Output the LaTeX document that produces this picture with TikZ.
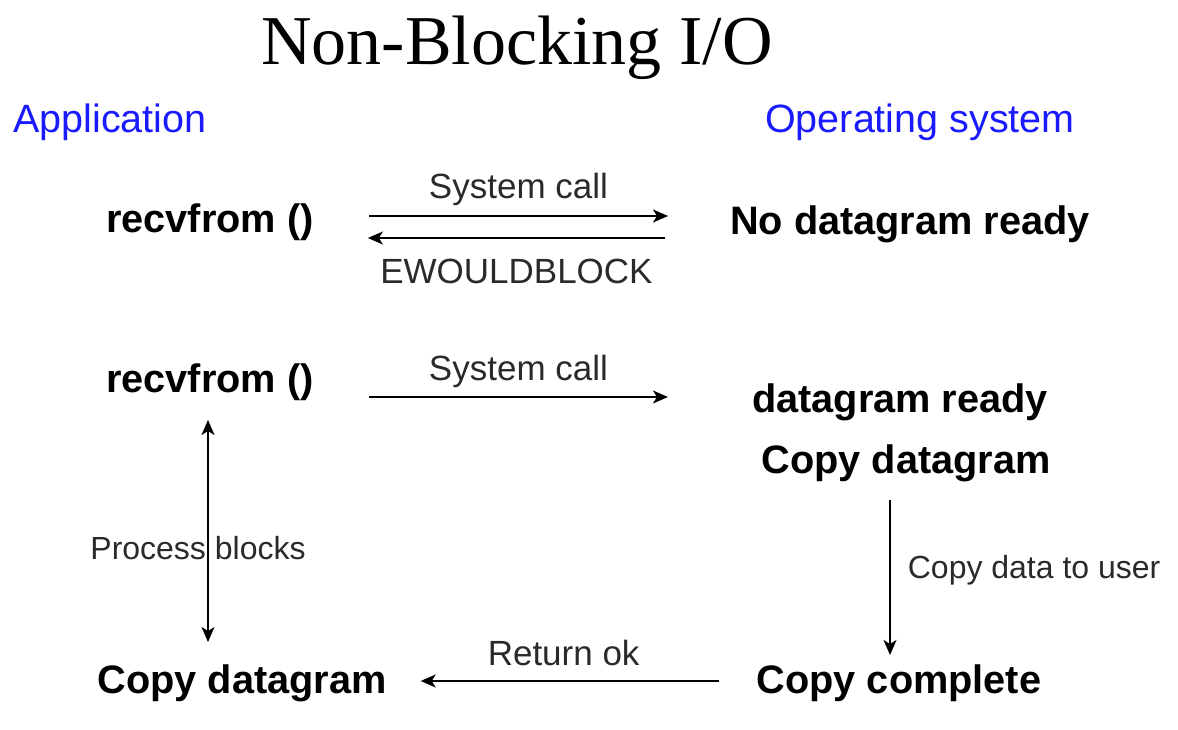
\documentclass[tikz,border=0pt]{standalone}
\usepackage{fontspec}
\setmainfont{Liberation Sans}
\newfontfamily\titlefont{Liberation Serif}
\usetikzlibrary{arrows.meta}
\definecolor{appblue}{HTML}{1A1AFF}
\definecolor{lblgrey}{HTML}{2A2A2A}
\tikzset{
  bold/.style={inner sep=0pt, anchor=base, font=\fontsize{39.7}{46}\selectfont\bfseries},
  side/.style={inner sep=0pt, anchor=base west, text=appblue, font=\fontsize{39.5}{46}\selectfont},
  lbl/.style={inner sep=0pt, anchor=base, text=lblgrey, font=\fontsize{35}{40}\selectfont},
  slbl/.style={inner sep=0pt, text=lblgrey, font=\fontsize{32}{38}\selectfont},
  tip/.style={},
  arr/.style={line width=1.7pt, -{Stealth[length=15pt,width=13pt,inset=4pt]}},
  darr/.style={line width=1.7pt, {Stealth[length=15pt,width=13pt,inset=4pt]}-{Stealth[length=15pt,width=13pt,inset=4pt]}}
}
\begin{document}
\begin{tikzpicture}[x=1pt,y=-1pt]
\useasboundingbox (0,0) rectangle (1178,730);
% title
\node[inner sep=0pt, anchor=base, font=\titlefont\fontsize{70}{80}\selectfont] (title) at (517,65) {Non-Blocking I/O};
\node[side] (app) at (13,133) {Application};
\node[side] (os) at (765,133) {Operating system};
% nodes
\node[bold] (r1) at (210,233) {recvfrom ()};
\node[bold] (nd) at (910,234) {No datagram ready};
\node[bold] (r2) at (210,392) {recvfrom ()};
\node[bold] (dr) at (900,412) {datagram ready};
\node[bold] (cd) at (906,473) {Copy datagram};
\node[bold] (cc) at (899,693) {Copy complete};
\node[bold] (cl) at (242,693) {Copy datagram};
% connectors
\draw[arr] ([shift={(55,-17)}]r1.base east) -- ([shift={(-62,-18)}]nd.base west)
  node[lbl, pos=0.5, yshift=17pt] (sc1) {System call};
\draw[arr] ([shift={(-65,4)}]nd.base west) -- ([shift={(54,5)}]r1.base east)
  node[lbl, pos=0.5, yshift=-45pt] (ewb) {EWOULDBLOCK};
\draw[arr] ([shift={(55,5)}]r2.base east) -- ([shift={(-84,-15)}]dr.base west)
  node[lbl, pos=0.5, yshift=17pt] (sc2) {System call};
\draw[arr] ([shift={(-16,27)}]cd.base) -- ([shift={(-9,-38)}]cc.base)
  node[slbl, pos=0.45, anchor=west, xshift=17pt] (cdu) {Copy data to user};
\draw[darr] ([shift={(-2,28)}]r2.base) -- ([shift={(-34,-51)}]cl.base)
  node[slbl, pos=0.575, xshift=-10pt] (pb) {Process blocks};
\draw[arr] ([shift={(-38,-12)}]cc.base west) -- ([shift={(34,-12)}]cl.base east)
  node[lbl, pos=0.52, yshift=16pt] (rok) {Return ok};
\end{tikzpicture}
\end{document}
